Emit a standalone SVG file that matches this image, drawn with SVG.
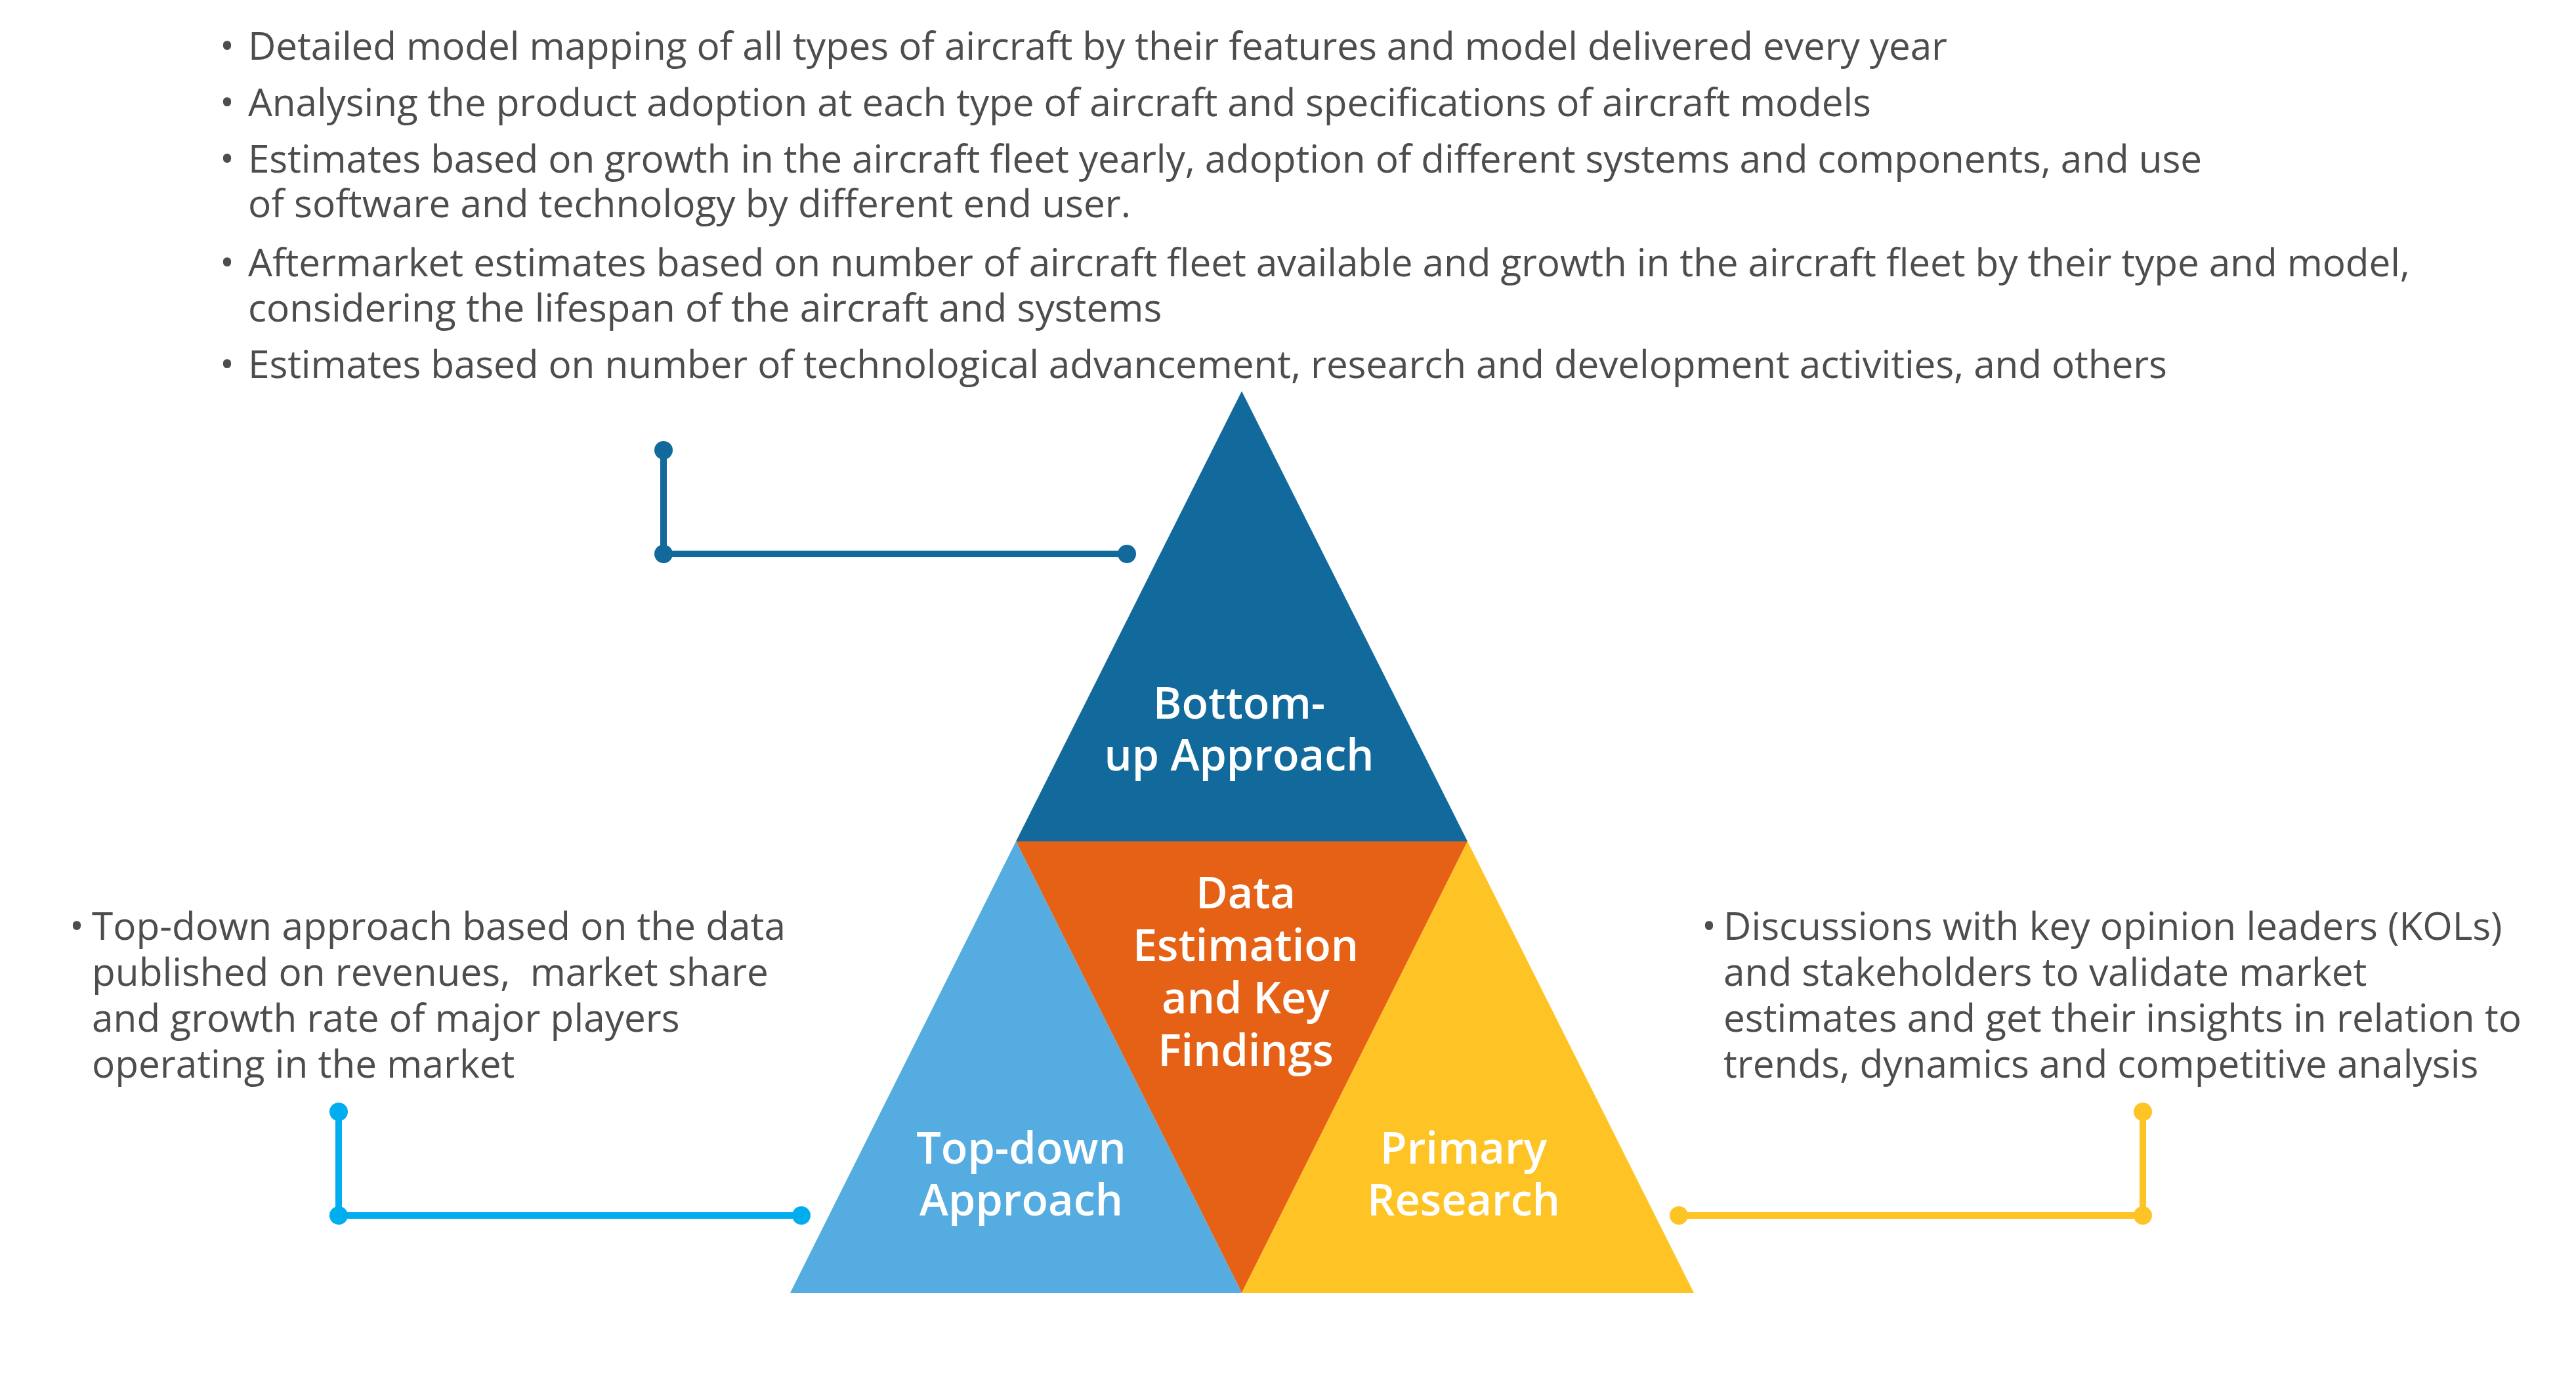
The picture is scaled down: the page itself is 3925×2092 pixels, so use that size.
<svg xmlns="http://www.w3.org/2000/svg" width="3925" height="2092" viewBox="0 0 3925 2092">
<style>
.txt{font-family:"Open Sans","Noto Sans","Liberation Sans",sans-serif;font-size:58.5px;fill:#4d4d4f;}
.side{font-family:"Open Sans","Noto Sans","Liberation Sans",sans-serif;font-size:58.5px;fill:#4d4d4f;}
.lbl{font-family:"Open Sans","Noto Sans","Liberation Sans",sans-serif;font-size:66.5px;font-weight:600;fill:#ffffff;text-anchor:middle;}
.bul{text-anchor:middle;}
.conn{fill:none;stroke-width:10;stroke-linejoin:miter;}
</style>
<rect width="3925" height="2092" fill="#ffffff"/>
<g id="top-text" class="txt">
<text class="bul" x="346" y="91">•</text>
<text x="378" y="91" textLength="2589" lengthAdjust="spacing">Detailed model mapping of all types of aircraft by their features and model delivered every year</text>
<text class="bul" x="346" y="177">•</text>
<text x="378" y="177" textLength="2473" lengthAdjust="spacing">Analysing the product adoption at each type of aircraft and specifications of aircraft models</text>
<text class="bul" x="346" y="263">•</text>
<text x="378" y="263" textLength="2977" lengthAdjust="spacing">Estimates based on growth in the aircraft fleet yearly, adoption of different systems and components, and use</text>
<text x="378" y="331">of software and technology by different end user.</text>
<text class="bul" x="346" y="421">•</text>
<text x="378" y="421" textLength="3294" lengthAdjust="spacing">Aftermarket estimates based on number of aircraft fleet available and growth in the aircraft fleet by their type and model,</text>
<text x="378" y="490">considering the lifespan of the aircraft and systems</text>
<text class="bul" x="346" y="576">•</text>
<text x="378" y="576" textLength="2924" lengthAdjust="spacing">Estimates based on number of technological advancement, research and development activities, and others</text>
</g>
<g id="left-text" class="side">
<text class="bul" x="117" y="1432">•</text>
<text x="140" y="1432">Top-down approach based on the data</text>
<text x="140" y="1502">published on revenues,&#160; market share</text>
<text x="140" y="1572">and growth rate of major players</text>
<text x="140" y="1642">operating in the market</text>
</g>
<g id="right-text" class="side">
<text class="bul" x="2604" y="1432">•</text>
<text x="2626" y="1432">Discussions with key opinion leaders (KOLs)</text>
<text x="2626" y="1502">and stakeholders to validate market</text>
<text x="2626" y="1572">estimates and get their insights in relation to</text>
<text x="2626" y="1642">trends, dynamics and competitive analysis</text>
</g>
<g id="bottom-up">
<polygon points="1892,596 2236,1282 1548,1282" fill="#12699b"/>
<text class="lbl" x="1888" y="1095">Bottom-</text>
<text class="lbl" x="1888" y="1174">up Approach</text>
</g>
<g id="data-estimation">
<polygon points="1548,1282 2236,1282 1892,1970" fill="#e56116"/>
<text class="lbl" x="1898" y="1384">Data</text>
<text class="lbl" x="1898" y="1464">Estimation</text>
<text class="lbl" x="1898" y="1544">and Key</text>
<text class="lbl" x="1898" y="1624">Findings</text>
</g>
<g id="top-down">
<polygon points="1548,1282 1892,1970 1204,1970" fill="#55ace1"/>
<text class="lbl" x="1556" y="1773">Top-down</text>
<text class="lbl" x="1556" y="1852">Approach</text>
</g>
<g id="primary-research">
<polygon points="2236,1282 2581,1970 1892,1970" fill="#fec325"/>
<text class="lbl" x="2230" y="1773">Primary</text>
<text class="lbl" x="2230" y="1852">Research</text>
</g>
<g id="connectors">
<polyline class="conn" points="1011,686 1011,844 1717,844" stroke="#12699b"/>
<circle cx="1011" cy="686" r="14" fill="#12699b"/>
<circle cx="1011" cy="844" r="14" fill="#12699b"/>
<circle cx="1717" cy="844" r="14" fill="#12699b"/>
<polyline class="conn" points="516,1694 516,1852 1221,1852" stroke="#00aeef"/>
<circle cx="516" cy="1694" r="14" fill="#00aeef"/>
<circle cx="516" cy="1852" r="14" fill="#00aeef"/>
<circle cx="1221" cy="1852" r="14" fill="#00aeef"/>
<polyline class="conn" points="3265,1694 3265,1852 2558,1852" stroke="#fec325"/>
<circle cx="3265" cy="1694" r="14" fill="#fec325"/>
<circle cx="3265" cy="1852" r="14" fill="#fec325"/>
<circle cx="2558" cy="1852" r="14" fill="#fec325"/>
</g>
</svg>
